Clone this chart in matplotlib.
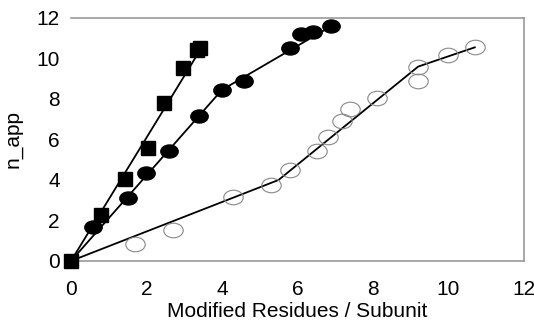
import numpy as np
import matplotlib.pyplot as plt
from matplotlib.path import Path
from matplotlib.transforms import Affine2D

plt.rcParams["font.family"] = ["Liberation Sans", "DejaVu Sans"]

# squares
sq_x = [0, 0.79, 1.43, 2.05, 2.47, 2.96, 3.33, 3.42]
sq_y = [0, 2.27, 4.05, 5.58, 7.8, 9.53, 10.4, 10.5]
sq_fit_x = [0, 3.4]
sq_fit_y = [0, 10.35]

# filled circles
fc_x = [0.59, 1.5, 2.0, 2.6, 3.39, 4.0, 4.58, 5.8, 6.09, 6.41, 6.89]
fc_y = [1.69, 3.1, 4.35, 5.43, 7.16, 8.44, 8.89, 10.52, 11.2, 11.3, 11.6]
fc_fit_x = [0, 4.0, 6.9]
fc_fit_y = [0, 8.45, 11.6]

# open circles
oc_x = [1.7, 2.7, 4.3, 5.3, 5.8, 6.52, 6.8, 7.18, 7.39, 8.1, 9.19, 9.19, 9.99, 10.7]
oc_y = [0.84, 1.53, 3.16, 3.75, 4.5, 5.43, 6.12, 6.9, 7.5, 8.05, 9.58, 8.9, 10.17, 10.57]
oc_fit_x = [0, 5.5, 9.2, 10.7]
oc_fit_y = [0, 4.0, 9.6, 10.55]

ellipse = Path.unit_circle().transformed(Affine2D().scale(1.0, 0.75))

fig = plt.figure(figsize=(5.34, 3.27), dpi=100)
ax = fig.add_axes([0.133, 0.202, 0.848, 0.743])

ax.plot(sq_fit_x, sq_fit_y, color="black", lw=1.3, zorder=2)
ax.plot(fc_fit_x, fc_fit_y, color="black", lw=1.3, zorder=2)
ax.plot(oc_fit_x, oc_fit_y, color="black", lw=1.3, zorder=2)

ax.plot(oc_x, oc_y, ls="none", marker=ellipse, ms=14, mfc="none",
        mec="#888888", mew=0.8, zorder=3)
ax.plot(fc_x, fc_y, ls="none", marker=ellipse, ms=12.5, mfc="black",
        mec="black", zorder=3)
ax.plot(sq_x, sq_y, ls="none", marker="s", ms=10, mfc="black",
        mec="black", zorder=4, clip_on=False)

ax.set_xlim(0, 12)
ax.set_ylim(0, 12)
ax.set_xticks(range(0, 13, 2))
ax.set_yticks(range(0, 13, 2))
ax.tick_params(length=0, labelsize=15)
ax.tick_params(axis="x", pad=14)
ax.tick_params(axis="y", pad=8)

for s in ["top", "right", "bottom"]:
    ax.spines[s].set_color("#999999")
    ax.spines[s].set_linewidth(1.2)
ax.spines["left"].set_visible(False)

ax.set_xlabel("Modified Residues / Subunit", fontsize=15, labelpad=2)
ax.set_ylabel("n_app", fontsize=15, labelpad=10)

fig.savefig("out.png", dpi=100)
